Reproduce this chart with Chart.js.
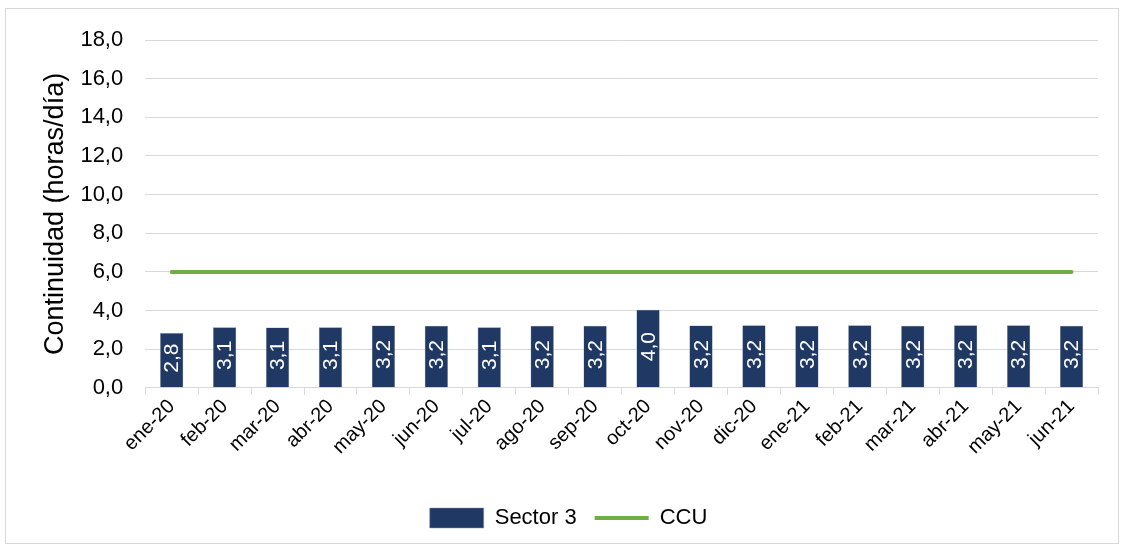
<!DOCTYPE html>
<html>
<head>
<meta charset="utf-8">
<script src="https://cdn.jsdelivr.net/npm/chart.js@4"></script>
<style>
  body { margin: 0; background: #fff; }
  #marco { position: absolute; left: 5px; top: 8px; width: 1112px; height: 534px; border: 1px solid #d9d9d9; }
  #contenedor { position: absolute; left: 0; top: 0; width: 1122px; height: 547px; }
</style>
</head>
<body>
<div id="marco"></div>
<div id="contenedor"><canvas id="grafico"></canvas></div>
<script>
const meses = ["ene-20", "feb-20", "mar-20", "abr-20", "may-20", "jun-20", "jul-20", "ago-20", "sep-20",
  "oct-20", "nov-20", "dic-20", "ene-21", "feb-21", "mar-21", "abr-21", "may-21", "jun-21"];
const sector3 = [2.84, 3.14, 3.12, 3.14, 3.23, 3.21, 3.14, 3.21, 3.21, 4.04, 3.23, 3.24, 3.22, 3.24, 3.22, 3.24, 3.24, 3.22];
const ccu = [6, 6, 6, 6, 6, 6, 6, 6, 6, 6, 6, 6, 6, 6, 6, 6, 6, 6];

const fuente = "'Liberation Sans', Arial, sans-serif";
const formato = (v) => v.toFixed(1).replace(".", ",");

// etiquetas verticales dentro de las barras
const etiquetasBarras = {
  id: "etiquetasBarras",
  afterDatasetsDraw(chart) {
    const ctx = chart.ctx;
    const meta = chart.getDatasetMeta(0);
    ctx.save();
    ctx.fillStyle = "#ffffff";
    ctx.font = "21px " + fuente;
    ctx.textAlign = "center";
    ctx.textBaseline = "middle";
    meta.data.forEach((bar, i) => {
      const y = (bar.y + bar.base) / 2 - 2;
      ctx.save();
      ctx.translate(bar.x + 1, y);
      ctx.rotate(-Math.PI / 2);
      ctx.fillText(formato(sector3[i]), 0, 0);
      ctx.restore();
    });
    ctx.restore();
  },
};

new Chart(document.getElementById("grafico"), {
  data: {
    labels: meses,
    datasets: [
      {
        type: "bar",
        label: "Sector 3",
        data: sector3,
        backgroundColor: "#203864",
        borderColor: "#8497b0",
        borderWidth: 0.5,
        barPercentage: 0.44,
        categoryPercentage: 1,
        pointStyle: "rect",
        order: 2,
      },
      {
        type: "line",
        label: "CCU",
        data: ccu,
        borderColor: "#70ad47",
        backgroundColor: "#70ad47",
        borderWidth: 4,
        borderCapStyle: "round",
        pointRadius: 0,
        pointStyle: "line",
        order: 1,
      },
    ],
  },
  options: {
    responsive: true,
    maintainAspectRatio: false,
    animation: false,
    layout: { padding: { left: 39, right: 24, top: 40, bottom: 8 } },
    scales: {
      x: {
        grid: { display: true, drawOnChartArea: false, color: "#d9d9d9", tickLength: 7, offset: true },
        border: { color: "#d9d9d9" },
        ticks: { color: "#000", font: { family: fuente, size: 20 }, maxRotation: 45, minRotation: 45, padding: 0 },
        afterFit: (escala) => { escala.height += 30; },
      },
      y: {
        min: 0,
        max: 18,
        grid: { color: "#d9d9d9", drawTicks: false },
        border: { display: false },
        ticks: { stepSize: 2, color: "#000", font: { family: fuente, size: 22 }, padding: 22, callback: (v) => formato(v) },
        title: { display: true, text: "Continuidad (horas/día)", color: "#000", font: { family: fuente, size: 27 }, padding: 0 },
        afterFit: (escala) => { escala.width -= 13; },
      },
    },
    plugins: {
      legend: {
        position: "bottom",
        labels: {
          sort: (a, b) => a.datasetIndex - b.datasetIndex,
          usePointStyle: true,
          pointStyleWidth: 54,
          boxHeight: 20,
          color: "#000",
          font: { family: fuente, size: 22 },
          padding: 18,
        },
      },
      tooltip: { enabled: false },
    },
  },
  plugins: [etiquetasBarras],
});
</script>
</body>
</html>
